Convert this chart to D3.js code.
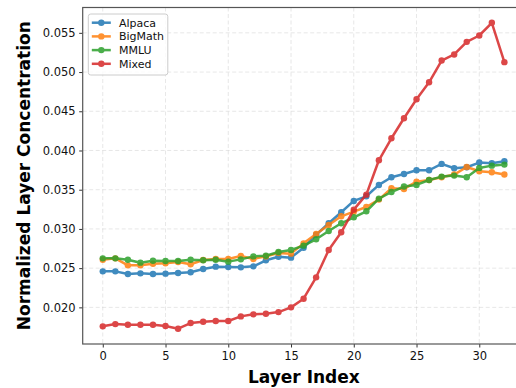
<!DOCTYPE html>
<html>
<head>
<meta charset="utf-8">
<script src="https://cdn.jsdelivr.net/npm/d3@7"></script>
<style>
  body { margin: 0; background: #fff; }
  svg { display: block; font-family: "DejaVu Sans", sans-serif; }
</style>
</head>
<body>
<div id="chart"></div>
<script>
// Data
const layers = d3.range(0, 33)
const xTicks = [0, 5, 10, 15, 20, 25, 30]
const yTicks = [0.020, 0.025, 0.030, 0.035, 0.040, 0.045, 0.050, 0.055]
const seriesNames = ['Alpaca', 'BigMath', 'MMLU', 'Mixed']
const alpaca = [0.02459, 0.02459, 0.02425, 0.02434, 0.02425, 0.02430, 0.02438, 0.02447, 0.02489, 0.02519,
  0.02515, 0.02510, 0.02523, 0.02600, 0.02646, 0.02634, 0.02761, 0.02925, 0.03072, 0.03212,
  0.03357, 0.03416, 0.03561, 0.03659, 0.03701, 0.03748, 0.03748, 0.03829, 0.03773, 0.03786,
  0.03846, 0.03837, 0.03863]
const bigMath = [0.02608, 0.02625, 0.02536, 0.02536, 0.02557, 0.02561, 0.02578, 0.02549, 0.02604, 0.02617,
  0.02617, 0.02655, 0.02617, 0.02650, 0.02693, 0.02685, 0.02816, 0.02936, 0.03050, 0.03161,
  0.03220, 0.03280, 0.03374, 0.03518, 0.03510, 0.03603, 0.03624, 0.03659, 0.03693, 0.03790,
  0.03735, 0.03722, 0.03693]
const mmlu = [0.02625, 0.02625, 0.02608, 0.02570, 0.02595, 0.02591, 0.02591, 0.02608, 0.02600, 0.02608,
  0.02583, 0.02612, 0.02650, 0.02659, 0.02706, 0.02731, 0.02787, 0.02868, 0.02974, 0.03072,
  0.03148, 0.03225, 0.03386, 0.03471, 0.03540, 0.03561, 0.03624, 0.03667, 0.03680, 0.03659,
  0.03778, 0.03807, 0.03820]
const mixed = [0.01758, 0.01787, 0.01779, 0.01779, 0.01779, 0.01762, 0.01728, 0.01800, 0.01817, 0.01826,
  0.01826, 0.01885, 0.01911, 0.01919, 0.01940, 0.02000, 0.02110, 0.02383, 0.02731, 0.02957,
  0.03246, 0.03437, 0.03875, 0.04156, 0.04411, 0.04654, 0.04870, 0.05147, 0.05224, 0.05385,
  0.05466, 0.05628, 0.05126]

const COLORS = ['#1f77b4', '#ff7f0e', '#2ca02c', '#d62728']
const seriesValues = [alpaca, bigMath, mmlu, mixed]

// Initialization
const width = 516
const height = 388
const margin = { left: 82.7, top: 7.5, bottom: 44 }

const svg = d3.select('#chart').append('svg')
  .attr('width', width)
  .attr('height', height)

// Scales (matplotlib style 5% margins)
const xPad = 32 * 0.05
const x = d3.scaleLinear()
  .domain([-xPad, 32 + xPad])
  .range([margin.left, margin.left + 35.2 * 12.55])

const allValues = seriesValues.flat()
const yMin = d3.min(allValues)
const yMax = d3.max(allValues)
const yPad = (yMax - yMin) * 0.05
const y = d3.scaleLinear()
  .domain([yMin - yPad, yMax + yPad])
  .range([height - margin.bottom, margin.top])

const plotRight = x.range()[1]
const plotBottom = y.range()[0]

// Grid
const grid = svg.append('g')
grid.selectAll('.gx')
  .data(xTicks)
  .enter()
  .append('line')
  .attr('x1', d => x(d))
  .attr('x2', d => x(d))
  .attr('y1', margin.top)
  .attr('y2', plotBottom)
grid.selectAll('.gy')
  .data(yTicks)
  .enter()
  .append('line')
  .attr('x1', margin.left)
  .attr('x2', plotRight)
  .attr('y1', d => y(d))
  .attr('y2', d => y(d))
grid.selectAll('line')
  .attr('stroke', '#b0b0b0')
  .attr('stroke-opacity', 0.3)
  .attr('stroke-width', 1)
  .attr('stroke-dasharray', '4,2.5')

// Lines
const line = d3.line()
  .x((_, i) => x(layers[i]))
  .y(d => y(d))

const series = svg.selectAll('.series')
  .data(seriesValues)
  .enter()
  .append('g')
  .attr('opacity', 0.85)

series.append('path')
  .attr('d', d => line(d))
  .attr('fill', 'none')
  .attr('stroke', (_, i) => COLORS[i])
  .attr('stroke-width', 2.5)
  .attr('stroke-linejoin', 'round')

series.each(function (vals, si) {
  d3.select(this).selectAll('circle')
    .data(vals)
    .enter()
    .append('circle')
    .attr('cx', (_, i) => x(layers[i]))
    .attr('cy', d => y(d))
    .attr('r', 3.2)
    .attr('fill', COLORS[si])
})

// Axes
const xAxis = svg.append('g')
  .attr('transform', `translate(0,${plotBottom})`)
  .call(d3.axisBottom(x).tickValues(xTicks).tickSize(3.5).tickPadding(4).tickFormat(d3.format('d')))
const yAxis = svg.append('g')
  .attr('transform', `translate(${margin.left},0)`)
  .call(d3.axisLeft(y).tickValues(yTicks).tickSize(3.5).tickPadding(3.5).tickFormat(d3.format('.3f')))

;[xAxis, yAxis].forEach(a => {
  a.select('.domain').remove()
  a.selectAll('line').attr('stroke', '#333')
  a.selectAll('text')
    .attr('fill', '#111')
    .style('font-size', '11.5px')
    .style('font-family', '"DejaVu Sans", sans-serif')
})

// Frame
svg.append('rect')
  .attr('x', margin.left)
  .attr('y', margin.top)
  .attr('width', plotRight - margin.left)
  .attr('height', plotBottom - margin.top)
  .attr('fill', 'none')
  .attr('stroke', '#555')
  .attr('stroke-width', 1.2)

// Axis labels
svg.append('text')
  .attr('x', (margin.left + 435) / 2 + 45)
  .attr('y', 383)
  .attr('text-anchor', 'middle')
  .style('font-size', '17px')
  .style('font-weight', 'bold')
  .text('Layer Index')

svg.append('text')
  .attr('transform', `translate(30,${(margin.top + plotBottom) / 2}) rotate(-90)`)
  .attr('text-anchor', 'middle')
  .style('font-size', '17px')
  .style('font-weight', 'bold')
  .text('Normalized Layer Concentration')

// Legend
const legend = svg.append('g')
  .attr('transform', 'translate(88.3,14)')
legend.append('rect')
  .attr('width', 79.5)
  .attr('height', 61)
  .attr('rx', 2.5)
  .attr('fill', '#fff')
  .attr('fill-opacity', 0.8)
  .attr('stroke', '#ccc')
  .attr('stroke-width', 1)

const item = legend.selectAll('.item')
  .data(seriesNames)
  .enter()
  .append('g')
  .attr('transform', (_, i) => `translate(0,${8.7 + i * 13.7})`)
  .attr('opacity', 0.85)
item.append('line')
  .attr('x1', 3.5)
  .attr('x2', 22.5)
  .attr('stroke', (_, i) => COLORS[i])
  .attr('stroke-width', 2.5)
item.append('circle')
  .attr('cx', 13)
  .attr('r', 3.2)
  .attr('fill', (_, i) => COLORS[i])
legend.selectAll('.label')
  .data(seriesNames)
  .enter()
  .append('text')
  .attr('x', 30.7)
  .attr('y', (_, i) => 8.7 + i * 13.7 + 4)
  .style('font-size', '11px')
  .attr('fill', '#111')
  .text(d => d)
</script>
</body>
</html>
